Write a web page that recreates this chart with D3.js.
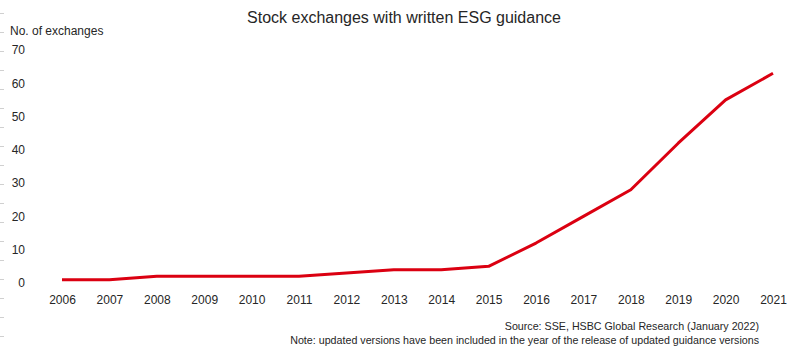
<!doctype html>
<html>
<head>
<meta charset="utf-8"/>
<script src="https://cdnjs.cloudflare.com/ajax/libs/d3/7.8.5/d3.min.js"></script>
<style>
  body { margin: 0; background: #fff; }
  text { font-family: "Liberation Sans", Arial, sans-serif; fill: #262626; }
</style>
</head>
<body>
<svg width="807" height="350"></svg>
<script>
  // data
  var years = ["2006","2007","2008","2009","2010","2011","2012","2013","2014","2015","2016","2017","2018","2019","2020","2021"]
  var exchanges = [1, 1, 2, 2, 2, 2, 3, 4, 4, 5, 12, 20, 28, 42, 55, 63]
  var yTicks = [0, 10, 20, 30, 40, 50, 60, 70]

  var svg = d3.select("svg")

  var x = d3.scalePoint().domain(years).range([62, 773])
  var y = d3.scaleLinear().domain([0, 70]).range([283, 50])

  // faint dashes on the left edge
  svg.append("g").selectAll("line")
    .data(d3.range(18))
    .enter().append("line")
    .attr("x1", 0).attr("x2", 4)
    .attr("y1", i => 13.5 + i * 19)
    .attr("y2", i => 13.5 + i * 19)
    .attr("stroke", "#d0d0d0")

  svg.append("text")
    .attr("x", 404).attr("y", 23)
    .attr("text-anchor", "middle")
    .style("font-size", "16px")
    .text("Stock exchanges with written ESG guidance")

  svg.append("text")
    .attr("x", 10).attr("y", 35)
    .style("font-size", "12px")
    .text("No. of exchanges")

  var yAxis = d3.axisLeft(y).tickValues(yTicks).tickSize(0).tickPadding(0)
  var gy = svg.append("g").attr("transform", "translate(25,0)").call(yAxis)
  gy.select(".domain").remove()
  gy.selectAll("text").style("font-size", "12px").attr("fill", "#262626").attr("font-family", null)

  var xAxis = d3.axisBottom(x).tickSize(0).tickPadding(0)
  var gx = svg.append("g").attr("transform", "translate(0,295)").call(xAxis)
  gx.select(".domain").remove()
  gx.selectAll("text").style("font-size", "12px").attr("fill", "#262626").attr("font-family", null)

  var line = d3.line()
    .x((d, i) => x(years[i]))
    .y(d => y(d))

  svg.append("path")
    .datum(exchanges)
    .attr("d", line)
    .attr("fill", "none")
    .attr("stroke", "#db0011")
    .attr("stroke-width", 3)
    .attr("stroke-linejoin", "round")

  svg.append("text")
    .attr("x", 759).attr("y", 330)
    .attr("text-anchor", "end")
    .style("font-size", "10.7px")
    .text("Source: SSE, HSBC Global Research (January 2022)")

  svg.append("text")
    .attr("x", 759).attr("y", 344)
    .attr("text-anchor", "end")
    .style("font-size", "10.7px")
    .text("Note: updated versions have been included in the year of the release of updated guidance versions")
</script>
</body>
</html>
